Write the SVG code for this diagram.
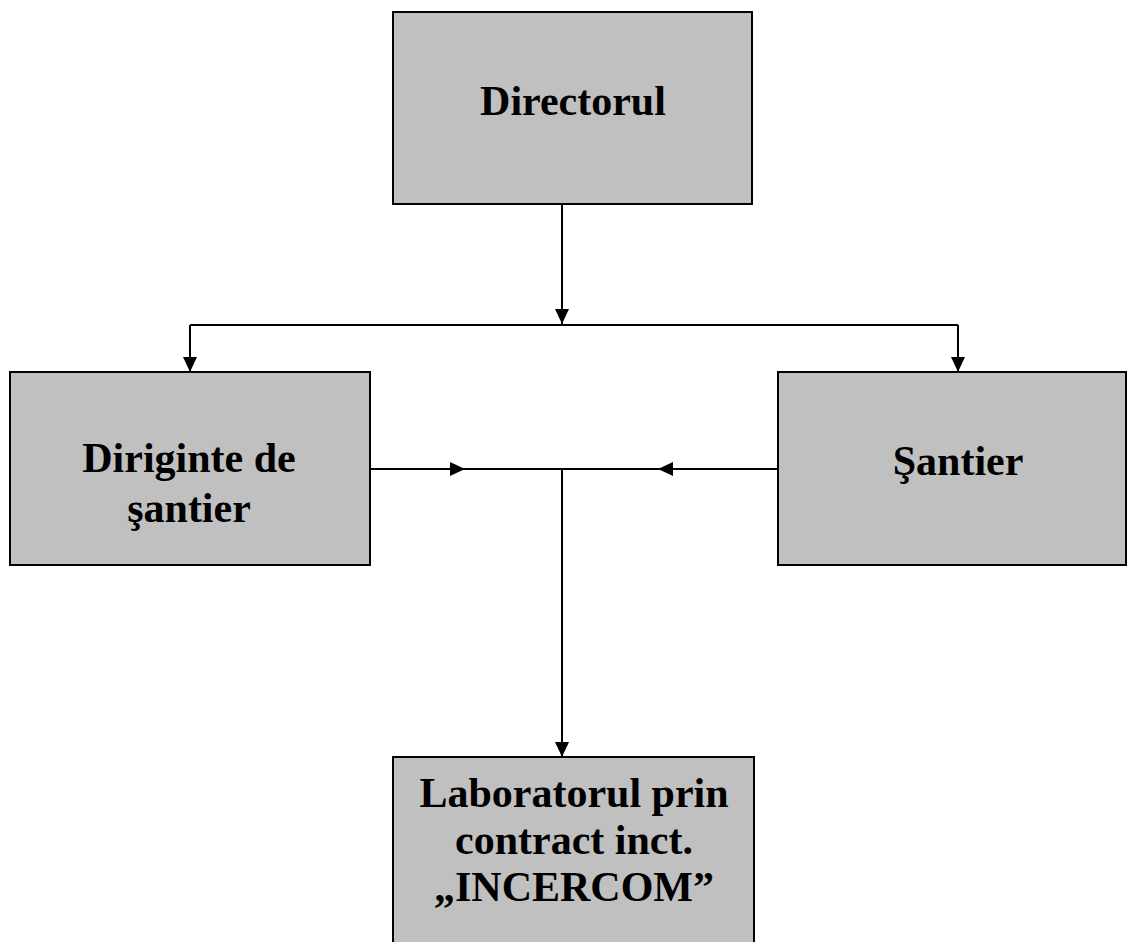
<svg xmlns="http://www.w3.org/2000/svg" width="1127" height="942" viewBox="0 0 1127 942">
<style>
.box{fill:#c0c0c0;stroke:#000;stroke-width:2}
.lbl{font-family:"Liberation Serif","Times New Roman",serif;font-weight:bold;font-size:42px;fill:#000;text-anchor:middle}
.ln{fill:none;stroke:#000;stroke-width:2}
</style>
<defs>
<marker id="ah" markerUnits="userSpaceOnUse" markerWidth="16" markerHeight="15" refX="15" refY="7" orient="auto">
<path d="M0,0 L15,7 L0,14 z" fill="#000"/>
</marker>
</defs>
<rect width="1127" height="942" fill="#fff"/>
<g id="connectors">
<path class="ln" d="M562,204 V324" marker-end="url(#ah)"/>
<path class="ln" d="M190,325 H958"/>
<path class="ln" d="M190,325 V372" marker-end="url(#ah)"/>
<path class="ln" d="M958,325 V372" marker-end="url(#ah)"/>
<path class="ln" d="M370,469 H465" marker-end="url(#ah)"/>
<path class="ln" d="M778,469 H658" marker-end="url(#ah)"/>
<path class="ln" d="M465,469 H658"/>
<path class="ln" d="M562,469 V757" marker-end="url(#ah)"/>
</g>
<g id="directorul">
<rect class="box" x="393" y="12" width="359" height="192"/>
<text class="lbl" x="573" y="115">Directorul</text>
</g>
<g id="diriginte">
<rect class="box" x="10" y="372" width="360" height="193"/>
<text class="lbl" x="189" y="472">Diriginte de</text>
<text class="lbl" x="189" y="522">şantier</text>
</g>
<g id="santier">
<rect class="box" x="778" y="372" width="348" height="193"/>
<text class="lbl" x="958" y="475">Şantier</text>
</g>
<g id="laborator">
<rect class="box" x="393" y="757" width="361" height="195"/>
<text class="lbl" x="574" y="807">Laboratorul prin</text>
<text class="lbl" x="574" y="854">contract inct.</text>
<text class="lbl" x="574" y="901">„INCERCOM”</text>
</g>
</svg>
